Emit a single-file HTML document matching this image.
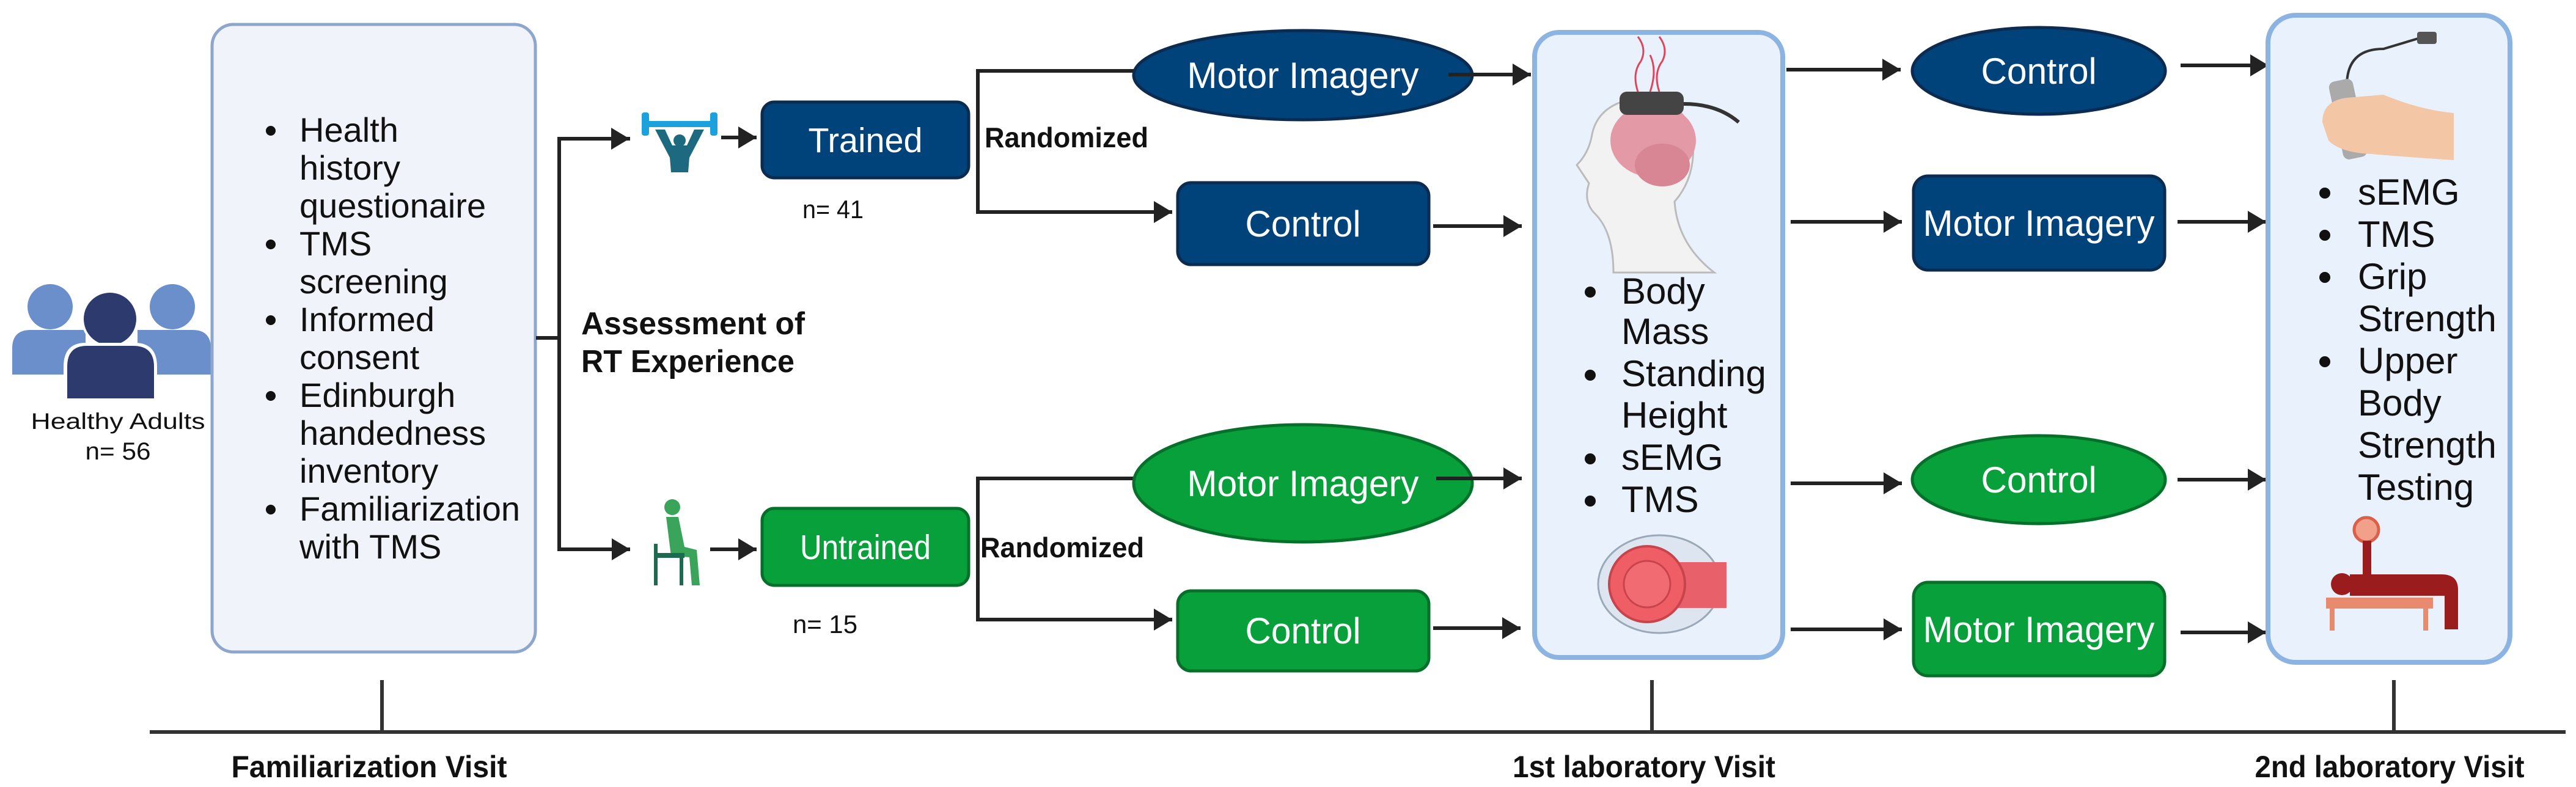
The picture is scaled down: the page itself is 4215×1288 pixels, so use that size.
<!DOCTYPE html>
<html><head><meta charset="utf-8"><style>
html,body{margin:0;padding:0;background:#fff;}
svg{display:block;}
text{font-family:"Liberation Sans",sans-serif;}
</style></head><body>
<svg width="4215" height="1288" viewBox="0 0 4215 1288" xmlns="http://www.w3.org/2000/svg">
<defs>
<marker id="ah" markerWidth="6" markerHeight="6" refX="5" refY="3" orient="auto" markerUnits="strokeWidth">
<path d="M0,0 L5,3 L0,6 Z" fill="#222"/>
</marker>
</defs>
<rect width="4215" height="1288" fill="#fff"/>

<!-- People icon -->
<g>
<circle cx="82" cy="502" r="37" fill="#6a8fca"/>
<circle cx="282" cy="502" r="37" fill="#6a8fca"/>
<path d="M20,613 L20,570 Q20,540 50,540 L140,540 L140,613 Z" fill="#6a8fca"/>
<path d="M225,540 L315,540 Q345,540 345,570 L345,613 L225,613 Z" fill="#6a8fca"/>
<circle cx="180" cy="522" r="47" fill="#fff"/>
<circle cx="180" cy="522" r="43" fill="#2d3a6e"/>
<path d="M104,656 L104,600 Q104,561 140,561 L220,561 Q257,561 257,600 L257,656 Z" fill="#fff"/>
<path d="M110,652 L110,600 Q110,566 142,566 L218,566 Q252,566 252,600 L252,652 Z" fill="#2d3a6e"/>
<text x="193" y="702" font-size="37" text-anchor="middle" fill="#111" textLength="285" lengthAdjust="spacingAndGlyphs">Healthy Adults</text>
<text x="193" y="752" font-size="40" text-anchor="middle" fill="#111" textLength="107" lengthAdjust="spacingAndGlyphs">n= 56</text>
</g>

<!-- Familiarization box -->
<rect x="347" y="40" width="529" height="1027" rx="35" fill="#f0f4fa" stroke="#8ea6cc" stroke-width="5"/>
<g fill="#111" font-size="56">
<circle cx="443" cy="214" r="8"/><circle cx="443" cy="400" r="8"/><circle cx="443" cy="524" r="8"/><circle cx="443" cy="648" r="8"/><circle cx="443" cy="834" r="8"/>
<text x="490" y="232">Health</text>
<text x="490" y="294">history</text>
<text x="490" y="356">questionaire</text>
<text x="490" y="418">TMS</text>
<text x="490" y="480">screening</text>
<text x="490" y="542">Informed</text>
<text x="490" y="604">consent</text>
<text x="490" y="666">Edinburgh</text>
<text x="490" y="728">handedness</text>
<text x="490" y="790">inventory</text>
<text x="490" y="852">Familiarization</text>
<text x="490" y="914">with TMS</text>
</g>

<!-- Connectors from familiarization -->
<g stroke="#222" stroke-width="6" fill="none">
<line x1="877" y1="553" x2="915" y2="553"/>
<polyline points="1031,227 915,227 915,899 1031,899" marker-end="url(#ah)"/>
<line x1="915" y1="227" x2="1030" y2="227" marker-end="url(#ah)"/>
<line x1="1180" y1="225" x2="1238" y2="225" marker-end="url(#ah)"/>
<line x1="1162" y1="899" x2="1238" y2="899" marker-end="url(#ah)"/>
</g>
<text x="951" y="547" font-size="52" font-weight="bold" fill="#111" textLength="366" lengthAdjust="spacingAndGlyphs">Assessment of</text>
<text x="951" y="609" font-size="52" font-weight="bold" fill="#111" textLength="349" lengthAdjust="spacingAndGlyphs">RT Experience</text>

<!-- Weightlifter icon -->
<g>
<rect x="1052" y="198" width="120" height="10" fill="#1ba1dc"/>
<rect x="1050" y="184" width="12" height="38" rx="4" fill="#1ba1dc"/>
<rect x="1162" y="184" width="12" height="38" rx="4" fill="#1ba1dc"/>
<path d="M1072,212 L1088,212 L1100,238 L1124,238 L1136,212 L1152,212 L1128,258 L1126,282 L1098,282 L1096,258 Z" fill="#1d6a80"/>
<circle cx="1112" cy="230" r="10" fill="#1d6a80"/>
</g>
<!-- Sitting icon -->
<g fill="#3aa55a">
<circle cx="1100" cy="830" r="13"/>
<path d="M1090,846 L1110,846 L1120,895 L1140,900 L1145,958 L1132,958 L1128,912 L1098,910 Z"/>
<rect x="1070" y="890" width="6" height="68" fill="#1d6a50"/>
<rect x="1070" y="905" width="50" height="8" fill="#1d6a50"/>
<rect x="1112" y="905" width="6" height="53" fill="#1d6a50"/>
</g>

<!-- Trained / Untrained -->
<rect x="1247" y="167" width="338" height="124" rx="20" fill="#00427a" stroke="#0b2b50" stroke-width="5"/>
<text x="1416" y="249" font-size="57" text-anchor="middle" fill="#fff" textLength="187" lengthAdjust="spacingAndGlyphs">Trained</text>
<text x="1363" y="357" font-size="42" text-anchor="middle" fill="#111" textLength="100" lengthAdjust="spacingAndGlyphs">n= 41</text>
<rect x="1247" y="832" width="338" height="126" rx="20" fill="#07a03a" stroke="#05702a" stroke-width="5"/>
<text x="1416" y="915" font-size="57" text-anchor="middle" fill="#fff" textLength="214" lengthAdjust="spacingAndGlyphs">Untrained</text>
<text x="1350" y="1036" font-size="42" text-anchor="middle" fill="#111" textLength="106" lengthAdjust="spacingAndGlyphs">n= 15</text>

<text x="1611" y="241" font-size="46" font-weight="bold" fill="#111" textLength="268" lengthAdjust="spacingAndGlyphs">Randomized</text>
<text x="1604" y="912" font-size="46" font-weight="bold" fill="#111" textLength="268" lengthAdjust="spacingAndGlyphs">Randomized</text>

<!-- Branches -->
<g stroke="#222" stroke-width="6" fill="none">
<polyline points="1860,116 1600,116 1600,347 1918,347" marker-end="url(#ah)"/>
<polyline points="1860,783 1600,783 1600,1014 1918,1014" marker-end="url(#ah)"/>
</g>

<!-- Column 1 shapes -->
<ellipse cx="2132" cy="123" rx="277" ry="73" fill="#00427a" stroke="#0b2b50" stroke-width="5"/>
<text x="2132" y="144" font-size="60" text-anchor="middle" fill="#fff" textLength="379" lengthAdjust="spacingAndGlyphs">Motor Imagery</text>
<rect x="1927" y="299" width="411" height="134" rx="22" fill="#00427a" stroke="#0b2b50" stroke-width="5"/>
<text x="2132" y="387" font-size="60" text-anchor="middle" fill="#fff" textLength="189" lengthAdjust="spacingAndGlyphs">Control</text>
<ellipse cx="2132" cy="791" rx="277" ry="96" fill="#07a03a" stroke="#05702a" stroke-width="5"/>
<text x="2132" y="812" font-size="60" text-anchor="middle" fill="#fff" textLength="379" lengthAdjust="spacingAndGlyphs">Motor Imagery</text>
<rect x="1927" y="967" width="411" height="131" rx="22" fill="#07a03a" stroke="#05702a" stroke-width="5"/>
<text x="2132" y="1053" font-size="60" text-anchor="middle" fill="#fff" textLength="189" lengthAdjust="spacingAndGlyphs">Control</text>

<g stroke="#222" stroke-width="6" fill="none">
<line x1="2370" y1="122" x2="2505" y2="122" marker-end="url(#ah)"/>
<line x1="2345" y1="370" x2="2490" y2="370" marker-end="url(#ah)"/>
<line x1="2350" y1="783" x2="2490" y2="783" marker-end="url(#ah)"/>
<line x1="2345" y1="1028" x2="2488" y2="1028" marker-end="url(#ah)"/>
</g>

<!-- 1st lab box -->
<rect x="2511" y="53" width="406" height="1023" rx="40" fill="#e9f2fc" stroke="#8cb4e3" stroke-width="8"/>
<!-- head/brain -->
<g>
<path d="M2640,446 Q2640,380 2610,350 Q2590,330 2600,300 L2580,270 Q2600,250 2605,220 Q2615,170 2680,160 Q2760,160 2770,230 Q2775,290 2740,330 Q2745,400 2805,446 Z" fill="#f2f2f2" stroke="#bbb" stroke-width="3"/>
<ellipse cx="2705" cy="230" rx="70" ry="60" fill="#e39aa6"/>
<ellipse cx="2720" cy="270" rx="45" ry="35" fill="#d88594"/>
<rect x="2650" y="150" width="105" height="38" rx="12" fill="#444"/>
<path d="M2755,170 Q2810,170 2845,200" stroke="#333" stroke-width="6" fill="none"/>
<g stroke="#e0445a" stroke-width="3" fill="none">
<path d="M2680,150 Q2670,120 2685,100 Q2695,80 2680,60"/>
<path d="M2715,150 Q2705,120 2720,100 Q2730,80 2715,60"/>
<path d="M2700,150 Q2712,115 2700,90"/>
</g>
</g>
<g fill="#111" font-size="60">
<circle cx="2602" cy="478" r="9"/><circle cx="2602" cy="614" r="9"/><circle cx="2602" cy="751" r="9"/><circle cx="2602" cy="820" r="9"/>
<text x="2653" y="497">Body</text>
<text x="2653" y="563">Mass</text>
<text x="2653" y="632">Standing</text>
<text x="2653" y="700">Height</text>
<text x="2653" y="769">sEMG</text>
<text x="2653" y="838">TMS</text>
</g>
<!-- coil -->
<g>
<ellipse cx="2715" cy="956" rx="100" ry="80" fill="#dde6f0" stroke="#9aa8b8" stroke-width="3"/>
<rect x="2730" y="920" width="95" height="75" fill="#e8616a"/>
<circle cx="2695" cy="956" r="62" fill="#ef5d65" stroke="#c8444d" stroke-width="4"/>
<circle cx="2695" cy="956" r="38" fill="#f06b72" stroke="#c8444d" stroke-width="3"/>
</g>

<!-- Column 2 shapes -->
<g stroke="#222" stroke-width="6" fill="none">
<line x1="2923" y1="114" x2="3110" y2="114" marker-end="url(#ah)"/>
<line x1="2930" y1="363" x2="3112" y2="363" marker-end="url(#ah)"/>
<line x1="2930" y1="791" x2="3112" y2="791" marker-end="url(#ah)"/>
<line x1="2930" y1="1030" x2="3112" y2="1030" marker-end="url(#ah)"/>
</g>
<ellipse cx="3336" cy="116" rx="207" ry="71" fill="#00427a" stroke="#0b2b50" stroke-width="5"/>
<text x="3336" y="137" font-size="60" text-anchor="middle" fill="#fff" textLength="189" lengthAdjust="spacingAndGlyphs">Control</text>
<rect x="3131" y="288" width="411" height="154" rx="24" fill="#00427a" stroke="#0b2b50" stroke-width="5"/>
<text x="3336" y="386" font-size="60" text-anchor="middle" fill="#fff" textLength="379" lengthAdjust="spacingAndGlyphs">Motor Imagery</text>
<ellipse cx="3336" cy="785" rx="207" ry="72" fill="#07a03a" stroke="#05702a" stroke-width="5"/>
<text x="3336" y="806" font-size="60" text-anchor="middle" fill="#fff" textLength="189" lengthAdjust="spacingAndGlyphs">Control</text>
<rect x="3131" y="953" width="411" height="153" rx="24" fill="#07a03a" stroke="#05702a" stroke-width="5"/>
<text x="3336" y="1051" font-size="60" text-anchor="middle" fill="#fff" textLength="379" lengthAdjust="spacingAndGlyphs">Motor Imagery</text>

<g stroke="#222" stroke-width="6" fill="none">
<line x1="3568" y1="107" x2="3712" y2="107" marker-end="url(#ah)"/>
<line x1="3563" y1="363" x2="3708" y2="363" marker-end="url(#ah)"/>
<line x1="3563" y1="785" x2="3708" y2="785" marker-end="url(#ah)"/>
<line x1="3568" y1="1035" x2="3708" y2="1035" marker-end="url(#ah)"/>
</g>

<!-- 2nd lab box -->
<rect x="3711" y="25" width="396" height="1059" rx="45" fill="#e9f2fc" stroke="#8cb4e3" stroke-width="8"/>
<!-- hand grip -->
<g>
<path d="M3840,140 Q3840,80 3900,80 L3960,62" stroke="#333" stroke-width="4" fill="none"/>
<rect x="3955" y="52" width="32" height="20" rx="4" fill="#555"/>
<rect x="3822" y="130" width="40" height="130" rx="10" fill="#aaa" transform="rotate(-12 3842 195)"/>
<path d="M3800,200 Q3800,165 3840,160 L3900,155 Q3960,180 4015,185 L4015,262 Q3950,258 3880,252 Q3830,250 3810,230 Z" fill="#f3c6a5"/>
</g>
<g fill="#111" font-size="60">
<circle cx="3804" cy="316" r="9"/><circle cx="3804" cy="385" r="9"/><circle cx="3804" cy="454" r="9"/><circle cx="3804" cy="592" r="9"/>
<text x="3858" y="335">sEMG</text>
<text x="3858" y="404">TMS</text>
<text x="3858" y="473">Grip</text>
<text x="3858" y="542">Strength</text>
<text x="3858" y="611">Upper</text>
<text x="3858" y="680">Body</text>
<text x="3858" y="749">Strength</text>
<text x="3858" y="818">Testing</text>
</g>
<!-- bench press -->
<g>
<circle cx="3872" cy="867" r="20" fill="#f2a08a" stroke="#d9604a" stroke-width="5"/>
<rect x="3866" y="885" width="14" height="70" fill="#9b1c1c"/>
<circle cx="3832" cy="956" r="18" fill="#9b1c1c"/>
<path d="M3845,940 L3995,940 Q4022,940 4022,965 L4022,1030 L4000,1030 L4000,975 L3845,975 Z" fill="#9b1c1c"/>
<rect x="3806" y="978" width="175" height="18" fill="#e88a6e"/>
<rect x="3812" y="996" width="8" height="36" fill="#e88a6e"/>
<rect x="3965" y="996" width="8" height="36" fill="#e88a6e"/>
</g>

<!-- Timeline -->
<g stroke="#333" stroke-width="6">
<line x1="245" y1="1198" x2="4198" y2="1198"/>
<line x1="625" y1="1113" x2="625" y2="1198"/>
<line x1="2703" y1="1113" x2="2703" y2="1198"/>
<line x1="3917" y1="1113" x2="3917" y2="1198"/>
</g>
<text x="604" y="1272" font-size="50" font-weight="bold" text-anchor="middle" fill="#111" textLength="451" lengthAdjust="spacingAndGlyphs">Familiarization Visit</text>
<text x="2690" y="1272" font-size="50" font-weight="bold" text-anchor="middle" fill="#111" textLength="430" lengthAdjust="spacingAndGlyphs">1st laboratory Visit</text>
<text x="3910" y="1272" font-size="50" font-weight="bold" text-anchor="middle" fill="#111" textLength="441" lengthAdjust="spacingAndGlyphs">2nd laboratory Visit</text>
</svg>
</body></html>
